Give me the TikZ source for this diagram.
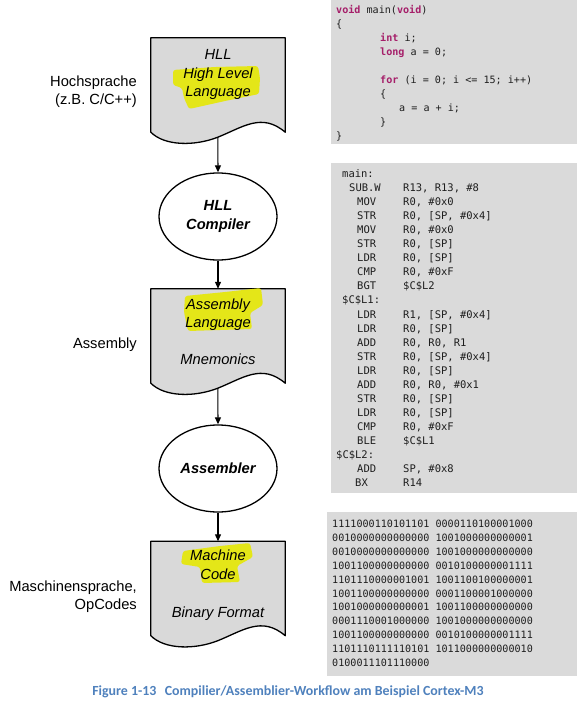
\documentclass[tikz,border=0pt]{standalone}
\usepackage{fontspec}
\setmainfont{Liberation Sans}
\newfontfamily\codefont{DejaVu Sans Mono}
\newfontfamily\capfont{Carlito}
\usetikzlibrary{shapes.geometric,arrows.meta,calc}
\definecolor{docgray}{HTML}{D9D9D9}
\definecolor{codegray}{HTML}{DADADA}
\definecolor{hl}{RGB}{228,230,24}
\definecolor{kwcol}{RGB}{165,30,105}
\definecolor{capblue}{HTML}{4F81BD}
\definecolor{codetext}{HTML}{1E1E1E}
\newcommand\kwd[1]{\textcolor{kwcol}{\bfseries #1}}
\tikzset{
  docarea/.style={rectangle,minimum width=134pt,minimum height=94pt,inner sep=0pt,draw=none},
  docline/.style={draw=black,line width=1.3pt,fill=docgray,line join=round},
  procell/.style={ellipse,draw=black,line width=1.3pt,fill=white,minimum width=118pt,minimum height=87pt,inner sep=0pt,align=center,font=\fontsize{14.7}{19}\selectfont\bfseries\itshape},
  flowarrow/.style={draw=black,line width=1.1pt,-{Triangle[length=7pt,width=6pt]}},
  doctext/.style={anchor=base,inner sep=0pt,font=\fontsize{14.7}{18}\selectfont\itshape},
  sidelabel/.style={anchor=base east,inner sep=0pt,font=\fontsize{14.7}{18}\selectfont},
  codebox/.style={rectangle,fill=codegray,draw=none,inner sep=0pt},
  codeA/.style={anchor=base west,inner sep=0pt,text=codetext,font=\codefont\fontsize{10.1}{14}\selectfont},
  codeB/.style={anchor=base west,inner sep=0pt,text=codetext,font=\codefont\fontsize{10.5}{14}\selectfont},
  hlmark/.style={fill=hl,draw=none,rounded corners=2.5pt},
}
\newcommand\docshape[1]{%
  \path[docline] (#1.south east) -- (#1.north east) -- (#1.north west) -- (#1.south west)
   .. controls ($(#1.south west)+(14,14)$) and ($(#1.south west)+(44,14)$) .. ($(#1.south west)+(67,5)$)
   .. controls ($(#1.south west)+(92,-5)$) and ($(#1.south west)+(111,-20)$) .. (#1.south east) -- cycle;}
\newcommand\asm[5]{%
  \node[codeB] (#1) at (336,#2) {\hspace*{#3pt}\makebox[\dimexpr67pt-#3pt\relax][l]{#4}#5};}
\newcommand\binl[3]{\node[codeA] (#1) at (332,#2) {#3};}
\begin{document}
\begin{tikzpicture}[x=1pt,y=-1pt]
\useasboundingbox (0,0) rectangle (581,706);
\fill[white] (0,0) rectangle (581,706);

% ---- code boxes ----
\node[codebox,minimum width=246pt,minimum height=144pt] (box1) at (454,72) {};
\node[codebox,minimum width=246pt,minimum height=330pt] (box2) at (454,328) {};
\node[codebox,minimum width=250pt,minimum height=164pt] (box3) at (452,594) {};

% C code
\node[codeA] (c1) at (336,13.5) {\kwd{void} main(\kwd{void})};
\node[codeA] (c2) at (336,27.5) {\{};
\node[codeA] (c3) at (380,41.5) {\kwd{int} i;};
\node[codeA] (c4) at (380,55.5) {\kwd{long} a = 0;};
\node[codeA] (c5) at (380,83.5) {\kwd{for} (i = 0; i <= 15; i++)};
\node[codeA] (c6) at (380,97.5) {\{};
\node[codeA] (c7) at (399,111.5) {a = a + i;};
\node[codeA] (c8) at (380,125.5) {\}};
\node[codeA] (c9) at (336,139.5) {\}};

% assembly
\node[codeB] (a0) at (342,177.5) {main:};
\asm{a1}{191.55}{13}{SUB.W}{R13, R13, \#8}
\asm{a2}{205.6}{21}{MOV}{R0, \#0x0}
\asm{a3}{219.65}{21}{STR}{R0, [SP, \#0x4]}
\asm{a4}{233.7}{21}{MOV}{R0, \#0x0}
\asm{a5}{247.75}{21}{STR}{R0, [SP]}
\asm{a6}{261.8}{21}{LDR}{R0, [SP]}
\asm{a7}{275.85}{21}{CMP}{R0, \#0xF}
\asm{a8}{289.9}{21}{BGT}{\$C\$L2}
\node[codeB] (a9) at (342,303.95) {\$C\$L1:};
\asm{a10}{318.0}{21}{LDR}{R1, [SP, \#0x4]}
\asm{a11}{332.05}{21}{LDR}{R0, [SP]}
\asm{a12}{346.1}{21}{ADD}{R0, R0, R1}
\asm{a13}{360.15}{21}{STR}{R0, [SP, \#0x4]}
\asm{a14}{374.2}{21}{LDR}{R0, [SP]}
\asm{a15}{388.25}{21}{ADD}{R0, R0, \#0x1}
\asm{a16}{402.3}{21}{STR}{R0, [SP]}
\asm{a17}{416.35}{21}{LDR}{R0, [SP]}
\asm{a18}{430.4}{21}{CMP}{R0, \#0xF}
\asm{a19}{444.45}{21}{BLE}{\$C\$L1}
\node[codeB] (a20) at (336,458.5) {\$C\$L2:};
\asm{a21}{472.55}{21}{ADD}{SP, \#0x8}
\asm{a22}{486.6}{19}{BX}{R14}

% binary
\binl{b1}{527.5}{1111000110101101 0000110100001000}
\binl{b2}{541.4}{0010000000000000 1001000000000001}
\binl{b3}{555.3}{0010000000000000 1001000000000000}
\binl{b4}{569.2}{1001100000000000 0010100000001111}
\binl{b5}{583.1}{1101110000001001 1001100100000001}
\binl{b6}{597.0}{1001100000000000 0001100001000000}
\binl{b7}{610.9}{1001000000000001 1001100000000000}
\binl{b8}{624.8}{0001110001000000 1001000000000000}
\binl{b9}{638.7}{1001100000000000 0010100000001111}
\binl{b10}{652.6}{1101110111110101 1011000000000010}
\binl{b11}{666.5}{0100011101110000}

% ---- flow chart ----
\node[docarea] (doc1) at (218,85) {};
\node[docarea] (doc2) at (218,336) {};
\node[docarea] (doc3) at (218,588.5) {};
\docshape{doc1}
\docshape{doc2}
\docshape{doc3}
\coordinate (w1) at ($(doc1.south west)+(67,5)$);
\coordinate (w2) at ($(doc2.south west)+(67,5)$);

% highlighter strokes
\path[hlmark] (173,70) -- (215,67) -- (258,66) -- (260,78) -- (259,94) -- (225,101) -- (189,109) -- (184,98) -- (182,88) -- (173,85) -- cycle;
\path[hlmark] (185,296) -- (225,292) -- (261,288) -- (263,305) -- (250,313) -- (252,329) -- (188,331) -- (184,312) -- cycle;
\path[hlmark] (183,551) -- (220,546) -- (250,543) -- (253,557) -- (237,566) -- (240,582) -- (202,583) -- (200,567) -- (181,564) -- cycle;

% document texts
\node[doctext] (t1a) at (218,60) {HLL};
\node[doctext] (t1b) at (218,78.5) {High Level};
\node[doctext] (t1c) at (218,97) {Language};
\node[doctext] (t2a) at (218,309) {Assembly};
\node[doctext] (t2b) at (218,327) {Language};
\node[doctext] (t2c) at (218,364) {Mnemonics};
\node[doctext] (t3a) at (218,560) {Machine};
\node[doctext] (t3b) at (218,579) {Code};
\node[doctext] (t3c) at (218,617) {Binary Format};

% processes
\node[procell] (e1) at (218,216.5) {HLL\\Compiler};
\node[procell] (e2) at (218,468.5) {Assembler};

% connectors
\draw[flowarrow] (w1) -- (e1.north);
\draw[flowarrow] (e1.south) -- (doc2.north);
\draw[flowarrow] (w2) -- (e2.north);
\draw[flowarrow] (e2.south) -- (doc3.north);

% side labels
\node[sidelabel] (s1a) at (137,87) {Hochsprache};
\node[sidelabel] (s1b) at (137,105) {(z.B. C/C++)};
\node[sidelabel] (s2) at (137,348) {Assembly};
\node[sidelabel] (s3a) at (137,591) {Maschinensprache,};
\node[sidelabel] (s3b) at (137,609) {OpCodes};

% caption
\node[anchor=base,inner sep=0pt,text=capblue,font=\capfont\bfseries\fontsize{13.9}{16}\selectfont] (cap) at (288,695.5) {Figure 1-13\hspace{0.6em}Compilier/Assemblier-Workflow am Beispiel Cortex-M3};
\end{tikzpicture}
\end{document}
